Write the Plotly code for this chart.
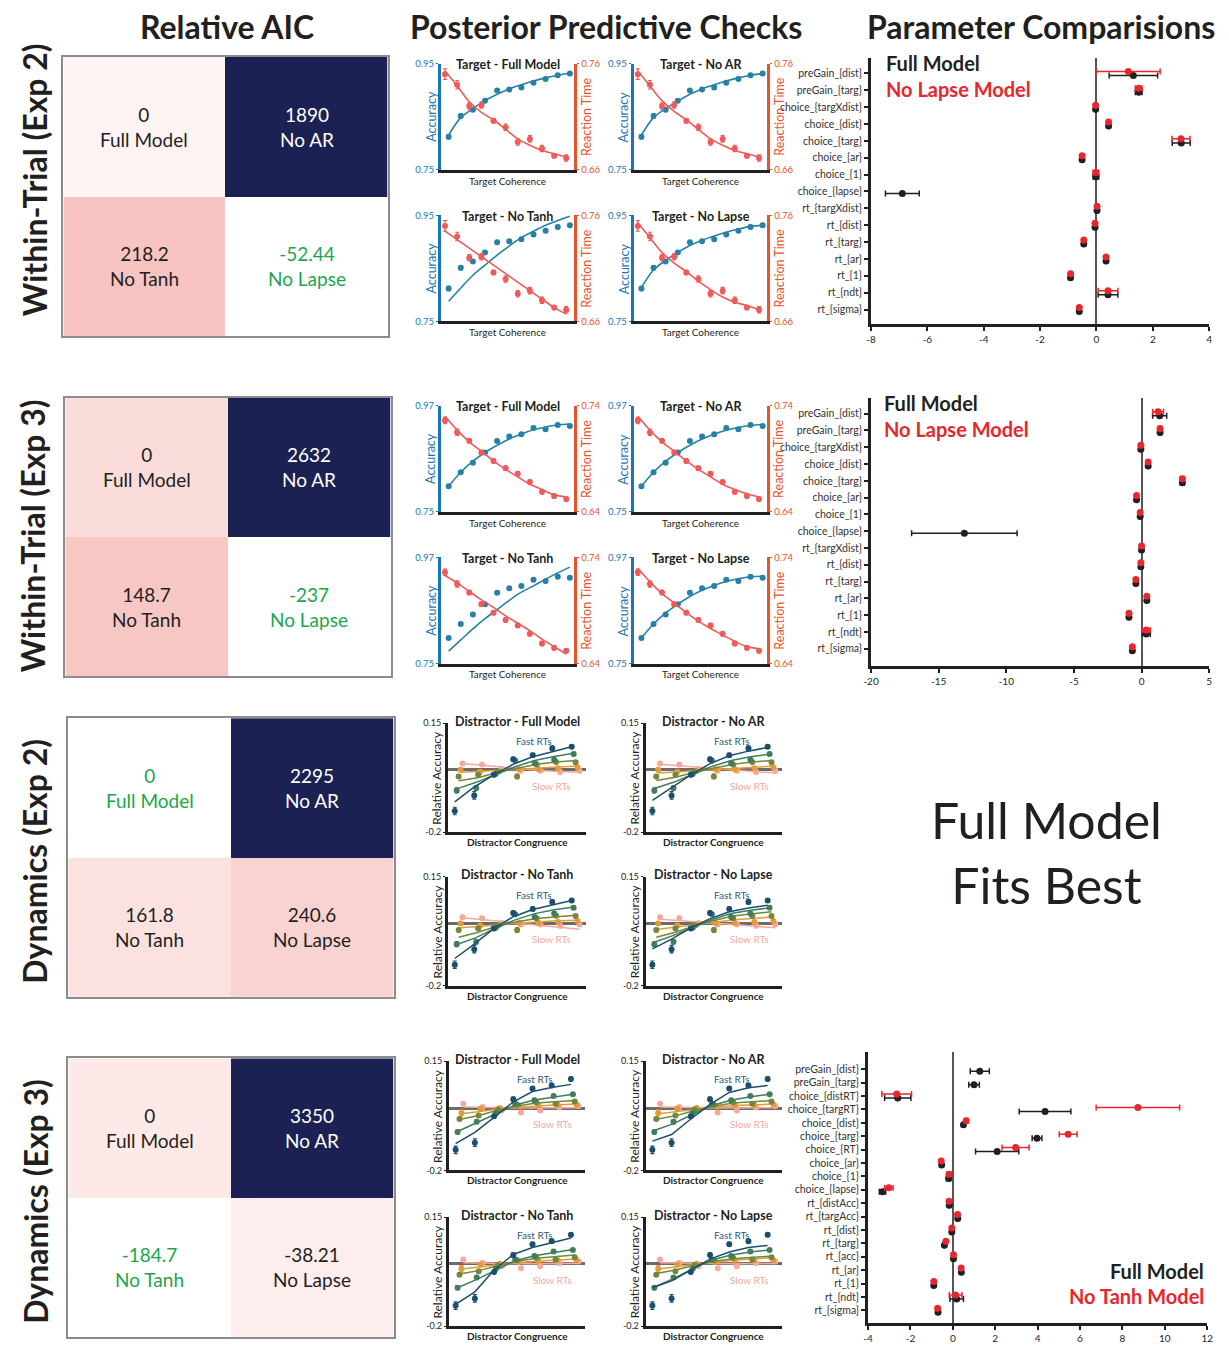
import plotly.graph_objects as go

W, H = 1229, 1346
FONT = "Lato"
DARK = "#231f20"
GREEN = "#1ca64c"
NAVY = "#1c2154"
BLUE_AX = "#1b75bb"
ORANGE_AX = "#e9532b"
ACC_C = "#2681a8"
RT_C = "#ef5a5a"
RED_M = "#e8262d"

# ===================== DATA =====================
aic_models = ["Full Model", "No AR", "No Tanh", "No Lapse"]
aic_within_exp2 = [0, 1890, 218.2, -52.44]
aic_within_exp3 = [0, 2632, 148.7, -237]
aic_dyn_exp2 = [0, 2295, 161.8, 240.6]
aic_dyn_exp3 = [0, 3350, -184.7, -38.21]

ppc_models = ["Full Model", "No AR", "No Tanh", "No Lapse"]
coherence_bins = [1, 2, 3, 4, 5, 6, 7, 8, 9, 10, 11]

# Within-trial Exp 2 (target coherence)
w2_acc = [0.812, 0.851, 0.863, 0.880, 0.899, 0.901, 0.905, 0.914, 0.921, 0.928, 0.931]
w2_acc_err = [0.004, 0.004, 0.003, 0.003, 0.003, 0.003, 0.003, 0.003, 0.003, 0.003, 0.003]
w2_rt = [0.750, 0.740, 0.720, 0.721, 0.706, 0.700, 0.686, 0.689, 0.680, 0.673, 0.671]
w2_rt_err = [0.005, 0.004, 0.003, 0.003, 0.002, 0.003, 0.003, 0.003, 0.003, 0.002, 0.003]
w2_acc_fit = {
    "Full Model": [0.815, 0.848, 0.865, 0.880, 0.892, 0.902, 0.910, 0.917, 0.923, 0.928, 0.932],
    "No AR":      [0.815, 0.848, 0.865, 0.879, 0.892, 0.902, 0.910, 0.917, 0.923, 0.928, 0.931],
    "No Tanh":    [0.788, 0.813, 0.837, 0.856, 0.875, 0.892, 0.908, 0.920, 0.931, 0.940, 0.948],
    "No Lapse":   [0.814, 0.847, 0.865, 0.880, 0.893, 0.903, 0.911, 0.918, 0.924, 0.929, 0.931],
}
w2_rt_fit = {
    "Full Model": [0.753, 0.739, 0.724, 0.714, 0.707, 0.698, 0.689, 0.683, 0.678, 0.675, 0.672],
    "No AR":      [0.753, 0.739, 0.725, 0.715, 0.707, 0.698, 0.689, 0.683, 0.678, 0.675, 0.672],
    "No Tanh":    [0.745, 0.737, 0.729, 0.721, 0.713, 0.705, 0.697, 0.689, 0.681, 0.673, 0.667],
    "No Lapse":   [0.753, 0.739, 0.725, 0.715, 0.707, 0.698, 0.690, 0.683, 0.678, 0.675, 0.671],
}

# Within-trial Exp 3
w3_acc = [0.803, 0.832, 0.852, 0.873, 0.897, 0.906, 0.911, 0.924, 0.921, 0.930, 0.928]
w3_acc_err = [0.003, 0.003, 0.003, 0.003, 0.003, 0.003, 0.003, 0.003, 0.003, 0.003, 0.003]
w3_rt = [0.726, 0.715, 0.707, 0.696, 0.688, 0.681, 0.676, 0.668, 0.659, 0.655, 0.652]
w3_rt_err = [0.003, 0.003, 0.002, 0.002, 0.002, 0.002, 0.002, 0.002, 0.002, 0.002, 0.002]
w3_acc_fit = {
    "Full Model": [0.803, 0.832, 0.855, 0.873, 0.888, 0.901, 0.911, 0.920, 0.926, 0.930, 0.932],
    "No AR":      [0.803, 0.832, 0.855, 0.873, 0.888, 0.901, 0.911, 0.919, 0.925, 0.929, 0.931],
    "No Tanh":    [0.776, 0.799, 0.822, 0.843, 0.862, 0.881, 0.898, 0.911, 0.925, 0.938, 0.950],
    "No Lapse":   [0.803, 0.832, 0.855, 0.873, 0.889, 0.902, 0.912, 0.920, 0.926, 0.930, 0.931],
}
w3_rt_fit = {
    "Full Model": [0.730, 0.717, 0.706, 0.697, 0.688, 0.680, 0.673, 0.666, 0.661, 0.656, 0.654],
    "No AR":      [0.730, 0.717, 0.706, 0.697, 0.688, 0.680, 0.673, 0.666, 0.661, 0.657, 0.654],
    "No Tanh":    [0.723, 0.716, 0.708, 0.700, 0.693, 0.685, 0.678, 0.671, 0.663, 0.656, 0.649],
    "No Lapse":   [0.730, 0.717, 0.706, 0.697, 0.688, 0.680, 0.673, 0.667, 0.661, 0.656, 0.654],
}

# Dynamics (distractor congruence x RT bin)
congruence_bins = [1, 2, 3, 4, 5, 6, 7]
rt_bin_names = ["Fast RTs", "RT bin 2", "RT bin 3", "RT bin 4", "Slow RTs"]
rt_bin_colors = ["#1c4f6e", "#3f7d5c", "#74873b", "#e39b35", "#f5a89c"]

d2_obs = [
    [-0.132, -0.082, -0.016, 0.034, 0.047, 0.069, 0.074],
    [-0.066, -0.058, -0.013, 0.030, 0.021, 0.032, 0.051],
    [-0.021, -0.016, -0.006, -0.021, 0.017, 0.025, 0.024],
    [0.000, -0.006, -0.004, 0.002, 0.002, 0.005, 0.008],
    [0.020, 0.017, 0.002, -0.003, -0.003, -0.006, -0.003],
]
d2_err = [
    [0.012, 0.012, 0.006, 0.006, 0.006, 0.007, 0.005],
    [0.008, 0.007, 0.005, 0.005, 0.005, 0.005, 0.005],
    [0.006, 0.006, 0.005, 0.007, 0.005, 0.005, 0.005],
    [0.006, 0.006, 0.004, 0.004, 0.004, 0.005, 0.005],
    [0.006, 0.006, 0.004, 0.004, 0.004, 0.008, 0.006],
]
d2_fit = {
    "Full Model": [
        [-0.103, -0.055, -0.016, 0.018, 0.042, 0.058, 0.074],
        [-0.061, -0.040, -0.015, 0.010, 0.030, 0.043, 0.053],
        [-0.035, -0.025, -0.008, 0.006, 0.018, 0.025, 0.030],
        [-0.008, -0.005, -0.002, 0.002, 0.006, 0.009, 0.012],
        [0.020, 0.014, 0.008, 0.002, -0.002, -0.005, -0.008],
    ],
    "No AR": [
        [-0.098, -0.058, -0.016, 0.020, 0.045, 0.060, 0.072],
        [-0.060, -0.040, -0.014, 0.011, 0.030, 0.042, 0.050],
        [-0.034, -0.024, -0.008, 0.006, 0.018, 0.025, 0.030],
        [-0.010, -0.006, -0.002, 0.002, 0.006, 0.010, 0.012],
        [0.018, 0.013, 0.007, 0.002, -0.002, -0.006, -0.010],
    ],
    "No Tanh": [
        [-0.112, -0.066, -0.016, 0.022, 0.045, 0.060, 0.074],
        [-0.067, -0.045, -0.014, 0.012, 0.032, 0.044, 0.053],
        [-0.044, -0.028, -0.008, 0.006, 0.016, 0.022, 0.027],
        [-0.013, -0.008, -0.002, 0.002, 0.006, 0.009, 0.011],
        [0.019, 0.013, 0.006, 0.000, -0.006, -0.012, -0.018],
    ],
    "No Lapse": [
        [-0.081, -0.050, -0.014, 0.016, 0.038, 0.050, 0.059],
        [-0.060, -0.038, -0.012, 0.013, 0.032, 0.043, 0.050],
        [-0.044, -0.028, -0.008, 0.010, 0.024, 0.032, 0.038],
        [-0.018, -0.010, -0.002, 0.006, 0.012, 0.017, 0.021],
        [0.014, 0.010, 0.005, 0.000, -0.004, -0.009, -0.013],
    ],
}

d3_obs = [
    [-0.134, -0.111, -0.026, 0.028, 0.063, 0.072, 0.093],
    [-0.077, -0.044, -0.016, 0.014, 0.025, 0.039, 0.044],
    [-0.035, -0.024, -0.005, 0.011, 0.019, 0.014, 0.021],
    [-0.016, -0.002, 0.000, 0.006, 0.009, 0.011, 0.011],
    [0.014, 0.003, -0.008, -0.014, -0.008, 0.002, 0.007],
]
d3_err = [
    [0.012, 0.012, 0.006, 0.007, 0.006, 0.006, 0.006],
    [0.006, 0.006, 0.005, 0.005, 0.005, 0.004, 0.004],
    [0.005, 0.005, 0.005, 0.005, 0.005, 0.005, 0.005],
    [0.010, 0.005, 0.004, 0.004, 0.004, 0.004, 0.004],
    [0.005, 0.005, 0.004, 0.005, 0.005, 0.004, 0.004],
]
d3_fit = {
    "Full Model": [
        [-0.114, -0.078, -0.030, 0.020, 0.053, 0.066, 0.076],
        [-0.075, -0.047, -0.018, 0.010, 0.026, 0.036, 0.044],
        [-0.037, -0.024, -0.007, 0.007, 0.016, 0.021, 0.024],
        [-0.018, -0.010, -0.003, 0.003, 0.008, 0.011, 0.013],
        [0.003, 0.002, 0.001, 0.000, 0.000, 0.001, 0.001],
    ],
    "No AR": [
        [-0.106, -0.085, -0.035, 0.012, 0.050, 0.065, 0.072],
        [-0.072, -0.050, -0.020, 0.008, 0.025, 0.036, 0.044],
        [-0.036, -0.025, -0.008, 0.006, 0.016, 0.021, 0.024],
        [-0.018, -0.011, -0.003, 0.003, 0.008, 0.011, 0.013],
        [0.003, 0.002, 0.001, 0.000, 0.000, 0.001, 0.001],
    ],
    "No Tanh": [
        [-0.130, -0.090, -0.020, 0.030, 0.052, 0.068, 0.083],
        [-0.077, -0.050, -0.020, 0.010, 0.026, 0.037, 0.046],
        [-0.033, -0.022, -0.006, 0.008, 0.018, 0.024, 0.028],
        [-0.017, -0.010, -0.002, 0.004, 0.009, 0.012, 0.015],
        [0.003, 0.002, 0.001, 0.000, 0.000, 0.001, 0.002],
    ],
    "No Lapse": [
        [-0.077, -0.055, -0.020, 0.015, 0.038, 0.052, 0.059],
        [-0.074, -0.048, -0.016, 0.012, 0.028, 0.038, 0.044],
        [-0.031, -0.020, -0.005, 0.008, 0.016, 0.021, 0.025],
        [-0.017, -0.009, -0.001, 0.006, 0.012, 0.017, 0.020],
        [0.003, 0.002, 0.001, 0.000, 0.000, 0.001, 0.001],
    ],
}

# Parameter comparisons
fp_params_within = ["preGain_{dist}", "preGain_{targ}", "choice_{targXdist}", "choice_{dist}",
                    "choice_{targ}", "choice_{ar}", "choice_{1}", "choice_{lapse}", "rt_{targXdist}",
                    "rt_{dist}", "rt_{targ}", "rt_{ar}", "rt_{1}", "rt_{ndt}", "rt_{sigma}"]
fp1_full = [1.31, 1.50, -0.03, 0.43, 3.01, -0.51, -0.02, -6.89, 0.02, -0.05, -0.45, 0.34, -0.92, 0.41, -0.61]
fp1_full_err = [0.86, 0.12, 0.0, 0.0, 0.32, 0.0, 0.1, 0.60, 0.0, 0.0, 0.0, 0.0, 0.0, 0.35, 0.0]
fp1_alt = [1.13, 1.50, -0.03, 0.43, 3.00, -0.51, -0.02, None, 0.02, -0.05, -0.45, 0.34, -0.92, 0.41, -0.61]
fp1_alt_err = [1.13, 0.12, 0.0, 0.0, 0.32, 0.0, 0.1, None, 0.0, 0.0, 0.0, 0.0, 0.0, 0.35, 0.0]

fp2_full = [1.34, 1.37, -0.05, 0.49, 3.02, -0.37, -0.10, -13.1, 0.0, -0.05, -0.42, 0.39, -0.93, 0.35, -0.68]
fp2_full_err = [0.52, 0.1, 0.0, 0.0, 0.15, 0.0, 0.0, 3.9, 0.0, 0.0, 0.0, 0.0, 0.0, 0.3, 0.0]
fp2_alt = [1.22, 1.37, -0.05, 0.49, 3.02, -0.37, -0.10, None, 0.0, -0.05, -0.42, 0.39, -0.93, 0.35, -0.68]
fp2_alt_err = [0.4, 0.1, 0.0, 0.0, 0.15, 0.0, 0.0, None, 0.0, 0.0, 0.0, 0.0, 0.0, 0.3, 0.0]

fp_params_dyn = ["preGain_{dist}", "preGain_{targ}", "choice_{distRT}", "choice_{targRT}", "choice_{dist}",
                 "choice_{targ}", "choice_{RT}", "choice_{ar}", "choice_{1}", "choice_{lapse}",
                 "rt_{distAcc}", "rt_{targAcc}", "rt_{dist}", "rt_{targ}", "rt_{acc}", "rt_{ar}",
                 "rt_{1}", "rt_{ndt}", "rt_{sigma}"]
fp3_full = [1.27, 1.00, -2.60, 4.35, 0.50, 3.97, 2.09, -0.53, -0.20, -3.32, -0.17, 0.23, -0.05, -0.40, 0.03, 0.40, -0.90, 0.18, -0.70]
fp3_full_err = [0.45, 0.25, 0.62, 1.22, 0.0, 0.23, 1.02, 0.0, 0.1, 0.15, 0.0, 0.0, 0.0, 0.0, 0.0, 0.0, 0.0, 0.32, 0.0]
fp3_alt = [None, None, -2.65, 8.73, 0.63, 5.44, 2.96, -0.55, -0.18, -3.02, -0.18, 0.22, -0.05, -0.33, 0.03, 0.39, -0.90, 0.13, -0.72]
fp3_alt_err = [None, None, 0.70, 1.97, 0.08, 0.42, 0.64, 0.0, 0.1, 0.2, 0.0, 0.0, 0.0, 0.0, 0.0, 0.0, 0.0, 0.3, 0.0]

# ===================== FIGURE =====================
layout = dict(width=W, height=H, margin=dict(l=0, r=0, t=0, b=0),
              paper_bgcolor="white", plot_bgcolor="rgba(0,0,0,0)",
              showlegend=False, font=dict(family=FONT, color=DARK))
annotations = []
traces = []
cnt = {"x": 0, "y": 0}


def new_panel(x0, x1, y0, y1):
    cnt["x"] += 1
    cnt["y"] += 1
    nx, ny = cnt["x"], cnt["y"]
    xk = "xaxis" if nx == 1 else f"xaxis{nx}"
    yk = "yaxis" if ny == 1 else f"yaxis{ny}"
    xr = "x" if nx == 1 else f"x{nx}"
    yr = "y" if ny == 1 else f"y{ny}"
    layout[xk] = dict(domain=[x0 / W, x1 / W], anchor=yr, showgrid=False, zeroline=False)
    layout[yk] = dict(domain=[1 - y1 / H, 1 - y0 / H], anchor=xr, showgrid=False, zeroline=False)
    return xk, yk, xr, yr


def new_overlay_y(xr, yr):
    cnt["y"] += 1
    ny = cnt["y"]
    layout[f"yaxis{ny}"] = dict(overlaying=yr, anchor=xr, side="right", showgrid=False, zeroline=False)
    return f"yaxis{ny}", f"y{ny}"


def text_px(x, y, text, size, color=DARK, bold=False, angle=0, xanchor="center", yanchor="middle"):
    t = f"<b>{text}</b>" if bold else text
    annotations.append(dict(x=x / W, y=1 - y / H, xref="paper", yref="paper", text=t,
                            showarrow=False, textangle=angle, xanchor=xanchor, yanchor=yanchor,
                            font=dict(size=size, color=color, family=FONT)))


# ---------- headers ----------
text_px(222, 21, "Relative AIC", 32, bold=True)
text_px(605, 21, "Posterior Predictive Checks", 32, bold=True)
text_px(1045, 21, "Parameter Comparisions", 32, bold=True)
text_px(27, 175, "Within-Trial (Exp 2)", 32, bold=True, angle=-90)
text_px(25, 534, "Within-Trial (Exp 3)", 32, bold=True, angle=-90)
text_px(27, 862, "Dynamics (Exp 2)", 32, bold=True, angle=-90)
text_px(27, 1205, "Dynamics (Exp 3)", 32, bold=True, angle=-90)

# ---------- AIC heatmaps ----------
AIC_SCALE = [[0, "#ffffff"], [0.15, "#f6c0bd"], [1, NAVY]]


def draw_aic(values, x0, y0, x1, y1):
    xk, yk, xr, yr = new_panel(x0, x1, y0, y1)
    vmin, vmax = min(values), max(values)
    z = [[values[0], values[1]], [values[2], values[3]]]
    traces.append(go.Heatmap(z=z, x=[0, 1], y=[0, 1], xaxis=xr, yaxis=yr, zmin=vmin, zmax=vmax,
                             colorscale=AIC_SCALE, showscale=False, hoverinfo="skip"))
    common = dict(showticklabels=False, ticks="", showline=True, mirror=True,
                  linecolor="#8c8c8c", linewidth=1.5)
    layout[xk].update(range=[-0.5, 1.5], **common)
    layout[yk].update(range=[1.5, -0.5], **common)
    for i, (v, name) in enumerate(zip(values, aic_models)):
        col = "white" if v == vmax else (GREEN if v == vmin else DARK)
        annotations.append(dict(x=i % 2, y=i // 2, xref=xr, yref=yr, text=f"{v:g}<br>{name}",
                                showarrow=False, font=dict(size=19, color=col, family=FONT)))


draw_aic(aic_within_exp2, 56, 51, 384, 333)
draw_aic(aic_within_exp3, 58, 395, 387, 676)
draw_aic(aic_dyn_exp2, 61, 718, 390, 999)
draw_aic(aic_dyn_exp3, 61, 1061, 390, 1342)

# ---------- Target PPC panels ----------


def draw_target(x0, y0, model, acc, acc_err, rt, rt_err, acc_fit, rt_fit, acc_rng, rt_rng):
    x1, y1 = x0 + 135, y0 + 107
    xk, yk, xr, yr = new_panel(x0, x1, y0, y1)
    yk2, yr2 = new_overlay_y(xr, yr)
    xs_acc = [c + 0.15 for c in coherence_bins]
    xs_rt = [c - 0.15 for c in coherence_bins]
    traces.append(go.Scatter(x=xs_acc, y=acc_fit, mode="lines", line=dict(color=ACC_C, width=1.6, shape="spline"),
                             xaxis=xr, yaxis=yr, hoverinfo="skip"))
    traces.append(go.Scatter(x=xs_acc, y=acc, mode="markers", marker=dict(color=ACC_C, size=6),
                             error_y=dict(type="data", array=acc_err, color=ACC_C, thickness=1.2, width=2),
                             xaxis=xr, yaxis=yr))
    traces.append(go.Scatter(x=xs_rt, y=rt_fit, mode="lines", line=dict(color=RT_C, width=1.6, shape="spline"),
                             xaxis=xr, yaxis=yr2, hoverinfo="skip"))
    traces.append(go.Scatter(x=xs_rt, y=rt, mode="markers", marker=dict(color=RT_C, size=6),
                             error_y=dict(type="data", array=rt_err, color=RT_C, thickness=1.2, width=2),
                             xaxis=xr, yaxis=yr2))
    layout[xk].update(range=[0.52, 11.53], showline=True, linecolor=DARK, linewidth=3,
                      showticklabels=False, ticks="")
    layout[yk].update(range=acc_rng, tickvals=acc_rng, ticktext=[f"{v:.2f}" for v in acc_rng],
                      showline=True, linecolor=BLUE_AX, linewidth=3, ticks="outside", ticklen=2,
                      tickcolor=BLUE_AX, tickfont=dict(size=9.5, color=BLUE_AX, family=FONT))
    layout[yk2].update(range=rt_rng, tickvals=rt_rng, ticktext=[f"{v:.2f}" for v in rt_rng],
                       showline=True, linecolor=ORANGE_AX, linewidth=3, ticks="outside", ticklen=2,
                       tickcolor=ORANGE_AX, tickfont=dict(size=9.5, color=ORANGE_AX, family=FONT))
    text_px((x0 + x1) / 2, y0 + 1, f"Target - {model}", 12.5, bold=True)
    text_px(x0 - 10, (y0 + y1) / 2, "Accuracy", 12.5, color=BLUE_AX, angle=-90)
    text_px(x1 + 12, (y0 + y1) / 2, "Reaction Time", 12.5, color=ORANGE_AX, angle=-90)
    text_px((x0 + x1) / 2, y1 + 11, "Target Coherence", 10)


target_origins = [(438, 58), (633, 58), (438, 211), (633, 211)]
for (ox, oy), m in zip(target_origins, ppc_models):
    draw_target(ox, oy, m, w2_acc, w2_acc_err, w2_rt, w2_rt_err, w2_acc_fit[m], w2_rt_fit[m],
                [0.75, 0.95], [0.66, 0.76])
target_origins3 = [(438, 403), (633, 403), (438, 556), (633, 556)]
for (ox, oy), m in zip(target_origins3, ppc_models):
    draw_target(ox, oy, m, w3_acc, w3_acc_err, w3_rt, w3_rt_err, w3_acc_fit[m], w3_rt_fit[m],
                [0.75, 0.97], [0.64, 0.74])

# ---------- Distractor (dynamics) PPC panels ----------


def draw_dyn(x0, y0, width, model, obs, err, fit):
    x1, y1 = x0 + width, y0 + 110
    xk, yk, xr, yr = new_panel(x0, x1, y0, y1)
    for k in range(len(obs) - 1, -1, -1):
        xs = [c + 0.1 * k for c in congruence_bins]
        col = rt_bin_colors[k]
        traces.append(go.Scatter(x=xs, y=fit[k], mode="lines", line=dict(color=col, width=1.5),
                                 xaxis=xr, yaxis=yr, hoverinfo="skip"))
        traces.append(go.Scatter(x=xs, y=obs[k], mode="markers", marker=dict(color=col, size=6),
                                 error_y=dict(type="data", array=err[k], color=col, thickness=1.2, width=2),
                                 xaxis=xr, yaxis=yr))
    layout[xk].update(range=[0.65, 7.75], showline=True, linecolor=DARK, linewidth=3,
                      showticklabels=False, ticks="")
    layout[yk].update(range=[-0.2, 0.15], tickvals=[-0.2, 0.15], ticktext=["-0.2", "0.15"],
                      showline=True, linecolor=DARK, linewidth=3, ticks="outside", ticklen=2,
                      tickcolor=DARK, tickfont=dict(size=9, color=DARK, family=FONT),
                      zeroline=True, zerolinecolor="#6b6b6b", zerolinewidth=3)
    text_px((x0 + x1) / 2, y0 - 2, f"Distractor - {model}", 12.5, bold=True)
    text_px(x0 - 11, (y0 + y1) / 2, "Relative Accuracy", 12, angle=-90)
    text_px((x0 + x1) / 2, y1 + 10, "Distractor Congruence", 10, bold=True)
    text_px(x0 + 87, y0 + 18, rt_bin_names[0], 10, color="#2a5c7e")
    text_px(x0 + 105, y0 + 63, rt_bin_names[-1], 10, color=rt_bin_colors[-1])


dyn_origins2 = [(445, 723, 140), (645, 723, 138), (445, 878, 140), (645, 878, 138)]
for (ox, oy, wd), m in zip(dyn_origins2, ppc_models):
    draw_dyn(ox, oy, wd, m, d2_obs, d2_err, d2_fit[m])
dyn_origins3 = [(446, 1064, 138), (645, 1064, 138), (446, 1221, 138), (645, 1221, 138)]
for (ox, oy, wd), m in zip(dyn_origins3, ppc_models):
    draw_dyn(ox, oy, wd, m, d3_obs, d3_err, d3_fit[m])

# ---------- Parameter comparison (forest) panels ----------


def draw_forest(x0, y0, x1, y1, params, full, full_err, alt, alt_err, xrng, xticks, yrng, off):
    xk, yk, xr, yr = new_panel(x0, x1, y0, y1)
    idx = list(range(len(params)))
    traces.append(go.Scatter(x=full, y=[i + off for i in idx], mode="markers",
                             marker=dict(color=DARK, size=7),
                             error_x=dict(type="data", array=full_err, color=DARK, thickness=1.5, width=3),
                             xaxis=xr, yaxis=yr))
    ai = [i for i in idx if alt[i] is not None]
    traces.append(go.Scatter(x=[alt[i] for i in ai], y=[i - off for i in ai], mode="markers",
                             marker=dict(color=RED_M, size=7),
                             error_x=dict(type="data", array=[alt_err[i] for i in ai], color=RED_M,
                                          thickness=1.5, width=3),
                             xaxis=xr, yaxis=yr))
    layout[xk].update(range=xrng, tickvals=xticks, ticktext=[str(t) for t in xticks],
                      showline=True, linecolor=DARK, linewidth=3, ticks="outside", ticklen=4,
                      tickwidth=1.5, tickcolor=DARK, tickfont=dict(size=10, color=DARK, family=FONT),
                      zeroline=True, zerolinecolor="#555555", zerolinewidth=2)
    layout[yk].update(range=yrng, tickvals=idx, ticktext=params, showline=True, linecolor=DARK,
                      linewidth=3, ticks="outside", ticklen=4, tickwidth=2, tickcolor=DARK,
                      tickfont=dict(size=10.5, color="#333333", family=FONT))


draw_forest(873, 52, 1215, 321, fp_params_within, fp1_full, fp1_full_err, fp1_alt, fp1_alt_err,
            [-8, 4], [-8, -6, -4, -2, 0, 2, 4], [14.88, -0.94], 0.12)
text_px(886, 57, "Full Model", 20, color=DARK, bold=True, xanchor="left")
text_px(886, 84, "No Lapse Model", 20, color=RED_M, bold=True, xanchor="left")

draw_forest(873, 395, 1215, 665, fp_params_within, fp2_full, fp2_full_err, fp2_alt, fp2_alt_err,
            [-20, 5], [-20, -15, -10, -5, 0, 5], [15.0, -0.945], 0.12)
text_px(884, 400, "Full Model", 20, color=DARK, bold=True, xanchor="left")
text_px(884, 426, "No Lapse Model", 20, color=RED_M, bold=True, xanchor="left")

draw_forest(870, 1055, 1213, 1328, fp_params_dyn, fp3_full, fp3_full_err, fp3_alt, fp3_alt_err,
            [-4, 12], [-4, -2, 0, 2, 4, 6, 8, 10, 12], [18.96, -1.26], 0.15)
text_px(1212, 1275, "Full Model", 20, color=DARK, bold=True, xanchor="right")
text_px(1212, 1301, "No Tanh Model", 20, color=RED_M, bold=True, xanchor="right")

# ---------- conclusion ----------
text_px(1050, 853, "Full Model<br>Fits Best", 50, color=DARK)

layout["annotations"] = annotations
fig = go.Figure(data=traces, layout=layout)
fig.write_html("out.html",
               post_script="document.body.style.margin='0';document.documentElement.style.overflow='hidden';")
